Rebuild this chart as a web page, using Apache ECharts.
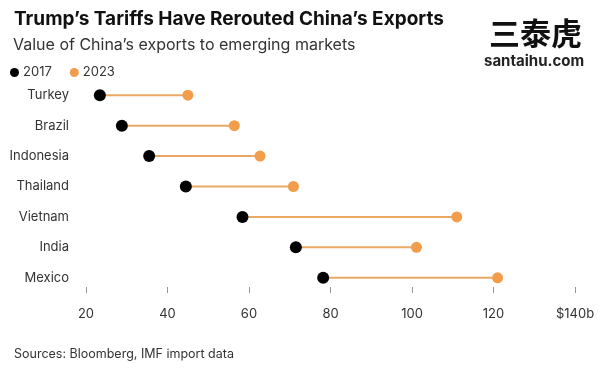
<!DOCTYPE html>
<html><head><meta charset="utf-8">
<script src="https://cdn.jsdelivr.net/npm/echarts@6/dist/echarts.min.js"></script>
<style>html,body{margin:0;padding:0;background:#fff}#c{width:600px;height:376px}</style>
</head><body><div id="c"></div>
<script>
const categories = ['Turkey','Brazil','Indonesia','Thailand','Vietnam','India','Mexico'];
const values2017 = [23.4, 28.8, 35.5, 44.5, 58.4, 71.5, 78.2];
const values2023 = [45.0, 56.4, 62.7, 70.9, 111.0, 101.1, 121.0];
const tickLabels = {20:'20',40:'40',60:'60',80:'80',100:'100',120:'120',140:'$140b'};

const chart = echarts.init(document.getElementById('c'));
const FONT = 'Inter, Liberation Sans, Arial, sans-serif';
chart.setOption({
  animation: false,
  backgroundColor: '#fff',
  textStyle: {fontFamily: FONT},
  title: [
    {text: "Trump’s Tariffs Have Rerouted China’s Exports", left: 9, top: 5,
     textStyle: {fontSize: 19, fontWeight: 'bold', color: '#111', fontFamily: FONT}},
    {text: "Value of China’s exports to emerging markets", left: 8, top: 32,
     textStyle: {fontSize: 16, fontWeight: 'normal', color: '#333', fontFamily: FONT}},
    {text: 'Sources: Bloomberg, IMF import data', left: 9, top: 343,
     textStyle: {fontSize: 12.5, fontWeight: 'normal', color: '#333', fontFamily: FONT}},
    {text: '三泰虎', left: 484, top: 13,
     textStyle: {fontSize: 31, fontWeight: 'bold', color: '#111', fontFamily: 'Noto Sans CJK SC'}},
    {text: 'santaihu.com', left: 479, top: 49,
     textStyle: {fontSize: 15, fontWeight: 'bold', color: '#222', fontFamily: FONT}}
  ],
  legend: {
    left: 5, top: 61, itemWidth: 9, itemHeight: 9, itemGap: 18, icon: 'circle',
    textStyle: {fontSize: 13, color: '#333', padding: [0,0,0,-1]},
    data: ['2017','2023']
  },
  grid: {left: 86, right: 25, top: 80, bottom: 83},
  xAxis: {
    type: 'value', min: 20, max: 140, interval: 20,
    axisLine: {show: false},
    axisTick: {show: true, inside: true, length: 6, lineStyle: {color: '#999'}},
    splitLine: {show: false},
    axisLabel: {margin: 15, fontSize: 13, color: '#333', formatter: v => tickLabels[v] || String(v)}
  },
  yAxis: {
    type: 'category', data: categories, inverse: true,
    axisLine: {show: false}, axisTick: {show: false},
    axisLabel: {margin: 17, fontSize: 13, color: '#333'}
  },
  series: [
    {
      type: 'custom', name: 'range',
      data: categories.map((c, i) => [values2017[i], values2023[i], i]),
      encode: {x: [0, 1], y: 2},
      renderItem: (params, api) => {
        const a = api.coord([api.value(0), api.value(2)]);
        const b = api.coord([api.value(1), api.value(2)]);
        return {type: 'line', shape: {x1: a[0], y1: a[1], x2: b[0], y2: b[1]},
                style: {stroke: '#e9a965', lineWidth: 2}};
      },
      z: 1
    },
    {type: 'scatter', name: '2017', data: values2017.map((v, i) => [v, i]),
     symbolSize: 12, itemStyle: {color: '#000', opacity: 1}, z: 3},
    {type: 'scatter', name: '2023', data: values2023.map((v, i) => [v, i]),
     symbolSize: 11, itemStyle: {color: '#f29d4b', opacity: 1}, z: 3}
  ]
});
</script></body></html>
